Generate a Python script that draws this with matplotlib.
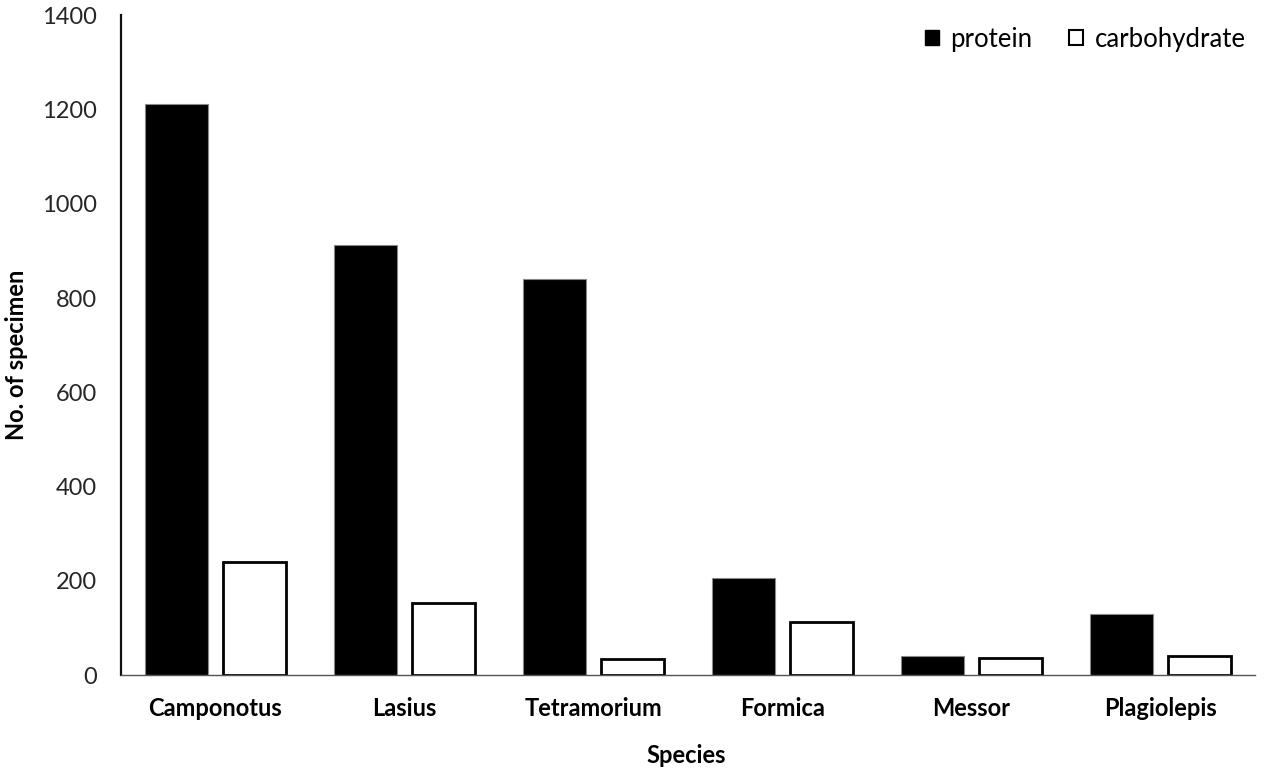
import matplotlib.pyplot as plt
import matplotlib.patches as mpatches
import numpy as np

species = ['Camponotus', 'Lasius', 'Tetramorium', 'Formica', 'Messor', 'Plagiolepis']
protein = [1211, 912, 841, 207, 41, 129]
carbohydrate = [240, 152, 34, 113, 37, 40]
y_ticks = [0, 200, 400, 600, 800, 1000, 1200, 1400]

plt.rcParams['font.family'] = ['Lato', 'DejaVu Sans']

fig = plt.figure(figsize=(12.64, 7.68), dpi=100)
ax = fig.add_axes([0.0957, 0.121, 0.8973, 0.859])

x = np.arange(len(species))
width = 0.333
offset = 0.206

ax.bar(x - offset, protein, width, color='black', edgecolor='#888888', linewidth=0.8)
ax.bar(x + offset, carbohydrate, width, color='white', edgecolor='black', linewidth=2.0)

ax.set_xlim(-0.5, len(species) - 0.5)
ax.set_ylim(0, 1400)
ax.set_yticks(y_ticks)
ax.set_yticklabels([str(v) for v in y_ticks], fontsize=17, color='#262626')
ax.set_xticks(x)
ax.set_xticklabels(species, fontsize=17, fontweight='bold')
ax.tick_params(axis='both', length=0)
ax.tick_params(axis='y', pad=17)
ax.tick_params(axis='x', pad=16)

for side in ['top', 'right']:
    ax.spines[side].set_visible(False)
ax.spines['left'].set_linewidth(1.6)
ax.spines['left'].set_color('#111111')
ax.spines['bottom'].set_linewidth(1.0)
ax.spines['bottom'].set_color('#555555')

ax.set_xlabel('Species', fontsize=17, fontweight='bold')
ax.set_ylabel('No. of specimen', fontsize=17, fontweight='bold')
ax.xaxis.set_label_coords(0.498, -0.105)
ax.yaxis.set_label_coords(-0.082, 0.485)

handles = [
    mpatches.Patch(facecolor='black', edgecolor='black', label='protein'),
    mpatches.Patch(facecolor='white', edgecolor='black', linewidth=1.5, label='carbohydrate'),
]
ax.legend(handles=handles, loc='upper right', ncol=2, frameon=False, fontsize=18.5,
          handlelength=0.55, handleheight=0.55, handletextpad=0.45, columnspacing=1.4,
          bbox_to_anchor=(1.005, 1.006), borderaxespad=0.2)

fig.savefig('out.png', dpi=100)
